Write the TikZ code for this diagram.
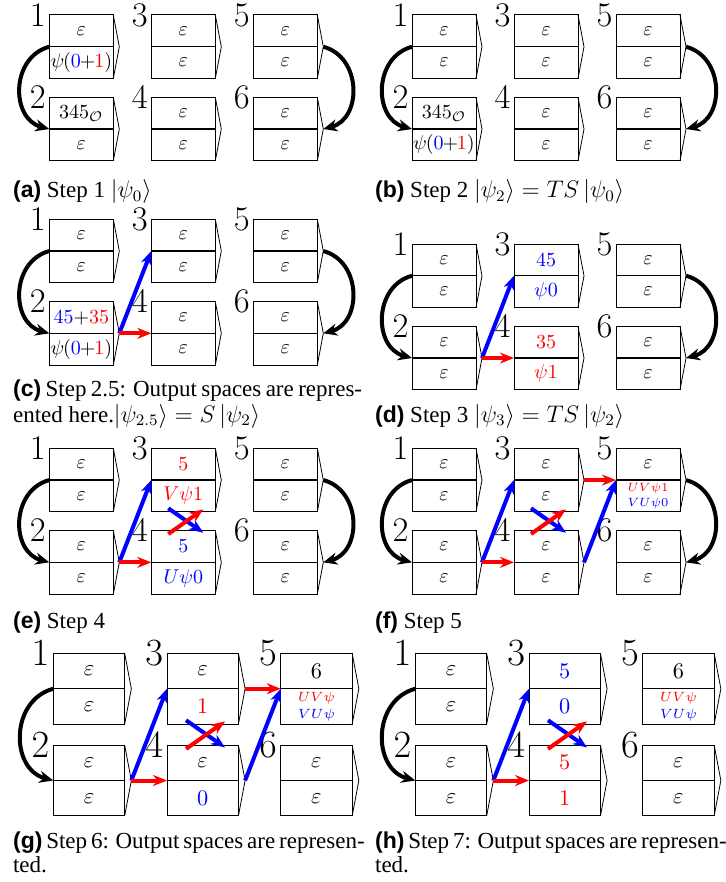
\documentclass[tikz,border=0pt]{standalone}
\usepackage{amsmath}
\usepackage{fontspec}
\setmainfont{Liberation Serif}
\newfontfamily\capsans{Liberation Sans}
\usetikzlibrary{arrows.meta}
\newcommand\Emp{$\varepsilon$}
\newcommand\capl[1]{{\capsans\bfseries (#1)}}
\newcommand\psiz{$\psi\mkern-1mu(\textcolor{blue}{0}\mkern-1mu{+}\mkern-1mu\textcolor{red}{1})$}
\newcommand\twol[2]{{\fontsize{6.5}{7.5}\selectfont\begin{tabular}{@{}c@{}}#1\\#2\end{tabular}}}
\newcommand\cell[6]{%
  \node[cellbox] (#1) at (#3,#4) {};
  \draw[divider] (#1.west) -- (#1.east);
  \coordinate (#1tip) at ({#3+38},#4);
  \draw[chev] (#1.north east) -- (#1tip) -- (#1.south east);
  \node[celltext] (#1t) at (#3,{#4-15.9}) {#5};
  \node[celltext] (#1b) at (#3,{#4+15.9}) {#6};
  \node[numlab] (#1n) at (#1.north west) {$#2$};
}
\tikzset{
  cellbox/.style={draw, line width=0.5pt, minimum width=32pt, minimum height=31.75pt, inner sep=0pt, outer sep=0pt},
  divider/.style={line width=0.7pt},
  chev/.style={line width=0.4pt},
  celltext/.style={inner sep=0pt, font=\fontsize{10}{12}\selectfont},
  numlab/.style={anchor=east, inner sep=1.6pt, font=\fontsize{17}{20}\selectfont},
  loopar/.style={line width=2pt, -{Stealth[length=7pt,width=6pt]}},
  barrow/.style={blue, line width=2pt, -{Stealth[length=7pt,width=5.5pt]}},
  rarrow/.style={red, line width=2pt, -{Stealth[length=7pt,width=5.5pt]}},
  capt/.style={anchor=base west, inner sep=0pt, font=\fontsize{11.5}{12}\selectfont},
}
\begin{document}
\begin{tikzpicture}[x=0.5pt,y=-0.5pt]
\useasboundingbox (0,0) rectangle (725,882);
% (a)
\begin{scope}[shift={(0,0)}]
\cell{a1}{1}{81.3}{46.75}{\Emp}{\psiz}
\cell{a2}{2}{81.3}{129.05}{$345_{\mathcal{O}}$}{\Emp}
\cell{a3}{3}{183.3}{46.75}{\Emp}{\Emp}
\cell{a4}{4}{183.3}{129.05}{\Emp}{\Emp}
\cell{a5}{5}{285.3}{46.75}{\Emp}{\Emp}
\cell{a6}{6}{285.3}{129.05}{\Emp}{\Emp}
\draw[loopar] (a1.west) to[out=195,in=165,looseness=1.25] (a2.west);
\draw[loopar] (a5tip) to[out=-15,in=15,looseness=1.25] (a6tip);
\end{scope}
% (b)
\begin{scope}[shift={(362.7,0)}]
\cell{b1}{1}{81.3}{46.75}{\Emp}{\Emp}
\cell{b2}{2}{81.3}{129.05}{$345_{\mathcal{O}}$}{\psiz}
\cell{b3}{3}{183.3}{46.75}{\Emp}{\Emp}
\cell{b4}{4}{183.3}{129.05}{\Emp}{\Emp}
\cell{b5}{5}{285.3}{46.75}{\Emp}{\Emp}
\cell{b6}{6}{285.3}{129.05}{\Emp}{\Emp}
\draw[loopar] (b1.west) to[out=195,in=165,looseness=1.25] (b2.west);
\draw[loopar] (b5tip) to[out=-15,in=15,looseness=1.25] (b6tip);
\end{scope}
% (c)
\begin{scope}[shift={(0,204.3)}]
\cell{c1}{1}{81.3}{46.75}{\Emp}{\Emp}
\cell{c2}{2}{81.3}{129.05}{$\textcolor{blue}{45}{+}\textcolor{red}{35}$}{\psiz}
\cell{c3}{3}{183.3}{46.75}{\Emp}{\Emp}
\cell{c4}{4}{183.3}{129.05}{\Emp}{\Emp}
\cell{c5}{5}{285.3}{46.75}{\Emp}{\Emp}
\cell{c6}{6}{285.3}{129.05}{\Emp}{\Emp}
\draw[loopar] (c1.west) to[out=195,in=165,looseness=1.25] (c2.west);
\draw[loopar] (c5tip) to[out=-15,in=15,looseness=1.25] (c6tip);
\draw[barrow] (c2tip) -- (c3.west);
\draw[rarrow] (c2tip) -- (c4.west);
\end{scope}
% (d)
\begin{scope}[shift={(362.7,229)}]
\cell{d1}{1}{81.3}{46.75}{\Emp}{\Emp}
\cell{d2}{2}{81.3}{129.05}{\Emp}{\Emp}
\cell{d3}{3}{183.3}{46.75}{$\textcolor{blue}{45}$}{$\textcolor{blue}{\psi0}$}
\cell{d4}{4}{183.3}{129.05}{$\textcolor{red}{35}$}{$\textcolor{red}{\psi1}$}
\cell{d5}{5}{285.3}{46.75}{\Emp}{\Emp}
\cell{d6}{6}{285.3}{129.05}{\Emp}{\Emp}
\draw[loopar] (d1.west) to[out=195,in=165,looseness=1.25] (d2.west);
\draw[loopar] (d5tip) to[out=-15,in=15,looseness=1.25] (d6tip);
\draw[barrow] (d2tip) -- (d3.west);
\draw[rarrow] (d2tip) -- (d4.west);
\end{scope}
% (e)
\begin{scope}[shift={(0,433.3)}]
\cell{e1}{1}{81.3}{46.75}{\Emp}{\Emp}
\cell{e2}{2}{81.3}{129.05}{\Emp}{\Emp}
\cell{e3}{3}{183.3}{46.75}{$\textcolor{red}{5}$}{$\textcolor{red}{V\psi1}$}
\cell{e4}{4}{183.3}{129.05}{$\textcolor{blue}{5}$}{$\textcolor{blue}{U\psi0}$}
\cell{e5}{5}{285.3}{46.75}{\Emp}{\Emp}
\cell{e6}{6}{285.3}{129.05}{\Emp}{\Emp}
\draw[loopar] (e1.west) to[out=195,in=165,looseness=1.25] (e2.west);
\draw[loopar] (e5tip) to[out=-15,in=15,looseness=1.25] (e6tip);
\draw[barrow] (e2tip) -- (e3.west);
\draw[rarrow] (e2tip) -- (e4.west);
\coordinate (e3x) at (168.3,75);
\coordinate (e4y) at (203.3,99.4);
\coordinate (e4x) at (168.3,100.7);
\coordinate (e3y) at (203.3,76);
\draw[barrow] (e3x) -- (e4y);
\draw[rarrow] (e4x) -- (e3y);
\end{scope}
% (f)
\begin{scope}[shift={(362.7,433.3)}]
\cell{f1}{1}{81.3}{46.75}{\Emp}{\Emp}
\cell{f2}{2}{81.3}{129.05}{\Emp}{\Emp}
\cell{f3}{3}{183.3}{46.75}{\Emp}{\Emp}
\cell{f4}{4}{183.3}{129.05}{\Emp}{\Emp}
\cell{f5}{5}{285.3}{46.75}{\Emp}{\twol{\textcolor{red}{$UV\psi1$}}{\textcolor{blue}{$VU\psi0$}}}
\cell{f6}{6}{285.3}{129.05}{\Emp}{\Emp}
\draw[loopar] (f1.west) to[out=195,in=165,looseness=1.25] (f2.west);
\draw[loopar] (f5tip) to[out=-15,in=15,looseness=1.25] (f6tip);
\draw[barrow] (f2tip) -- (f3.west);
\draw[rarrow] (f2tip) -- (f4.west);
\coordinate (f3x) at (168.3,75);
\coordinate (f4y) at (203.3,99.4);
\coordinate (f4x) at (168.3,100.7);
\coordinate (f3y) at (203.3,76);
\draw[barrow] (f3x) -- (f4y);
\draw[rarrow] (f4x) -- (f3y);
\draw[rarrow] (f3tip) -- (f5.west);
\draw[barrow] (f4tip) -- (f5.west);
\end{scope}
% (g)
\begin{scope}[shift={(-1.7,636.6)}, scale=1.115, transform shape]
\cell{g1}{1}{81.3}{46.75}{\Emp}{\Emp}
\cell{g2}{2}{81.3}{129.05}{\Emp}{\Emp}
\cell{g3}{3}{183.3}{46.75}{\Emp}{$\textcolor{red}{1}$}
\cell{g4}{4}{183.3}{129.05}{\Emp}{$\textcolor{blue}{0}$}
\cell{g5}{5}{285.3}{46.75}{$6$}{\twol{\textcolor{red}{$UV\psi$}}{\textcolor{blue}{$VU\psi$}}}
\cell{g6}{6}{285.3}{129.05}{\Emp}{\Emp}
\draw[loopar] (g1.west) to[out=195,in=165,looseness=1.25] (g2.west);
\draw[barrow] (g2tip) -- (g3.west);
\draw[rarrow] (g2tip) -- (g4.west);
\coordinate (g3x) at (168.3,75);
\coordinate (g4y) at (203.3,99.4);
\coordinate (g4x) at (168.3,100.7);
\coordinate (g3y) at (203.3,76);
\draw[barrow] (g3x) -- (g4y);
\draw[rarrow] (g4x) -- (g3y);
\draw[rarrow] (g3tip) -- (g5.west);
\draw[barrow] (g4tip) -- (g5.west);
\end{scope}
% (h)
\begin{scope}[shift={(360.3,636.6)}, scale=1.115, transform shape]
\cell{h1}{1}{81.3}{46.75}{\Emp}{\Emp}
\cell{h2}{2}{81.3}{129.05}{\Emp}{\Emp}
\cell{h3}{3}{183.3}{46.75}{$\textcolor{blue}{5}$}{$\textcolor{blue}{0}$}
\cell{h4}{4}{183.3}{129.05}{$\textcolor{red}{5}$}{$\textcolor{red}{1}$}
\cell{h5}{5}{285.3}{46.75}{$6$}{\twol{\textcolor{red}{$UV\psi$}}{\textcolor{blue}{$VU\psi$}}}
\cell{h6}{6}{285.3}{129.05}{\Emp}{\Emp}
\draw[loopar] (h1.west) to[out=195,in=165,looseness=1.25] (h2.west);
\draw[barrow] (h2tip) -- (h3.west);
\draw[rarrow] (h2tip) -- (h4.west);
\coordinate (h3x) at (168.3,75);
\coordinate (h4y) at (203.3,99.4);
\coordinate (h4x) at (168.3,100.7);
\coordinate (h3y) at (203.3,76);
\draw[barrow] (h3x) -- (h4y);
\draw[rarrow] (h4x) -- (h3y);
\end{scope}
% captions
\node[capt] (capa) at (12.7,198) {\capl{a} Step 1 $|\psi_0\rangle$};
\node[capt] (capb) at (374.7,198) {\capl{b} Step 2 $|\psi_2\rangle = TS\,|\psi_0\rangle$};
\node[capt] (capc1) at (12.7,396) {\makebox[174.5pt][s]{\capl{c} Step 2.5: Output spaces are repres-}};
\node[capt] (capc2) at (12.7,422) {ented here.$|\psi_{2.5}\rangle = S\,|\psi_2\rangle$};
\node[capt] (capd) at (374.7,422) {\capl{d} Step 3 $|\psi_3\rangle = TS\,|\psi_2\rangle$};
\node[capt] (cape) at (12.7,628) {\capl{e} Step 4};
\node[capt] (capf) at (374.7,628) {\capl{f} Step 5};
\node[capt] (capg1) at (12.7,848) {\makebox[174.5pt][s]{\capl{g} Step 6: Output spaces are represen-}};
\node[capt] (capg2) at (12.7,872) {ted.};
\node[capt] (caph1) at (374.7,848) {\makebox[174.5pt][s]{\capl{h} Step 7: Output spaces are represen-}};
\node[capt] (caph2) at (374.7,872) {ted.};
\end{tikzpicture}
\end{document}
